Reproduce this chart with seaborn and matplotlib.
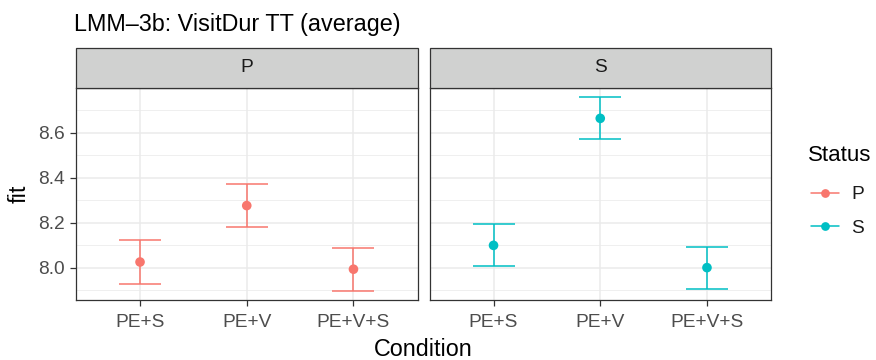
import numpy as np
import pandas as pd
import matplotlib
matplotlib.use("Agg")
import matplotlib.pyplot as plt
import seaborn as sns
from matplotlib.patches import Rectangle
from matplotlib.lines import Line2D

# ---- data ----
conditions = ["PE+S", "PE+V", "PE+V+S"]
statuses = ["P", "S"]
fit_P = [8.025, 8.276, 7.993]
lower_P = [7.929, 8.182, 7.898]
upper_P = [8.123, 8.372, 8.086]
fit_S = [8.099, 8.664, 8.000]
lower_S = [8.006, 8.570, 7.907]
upper_S = [8.193, 8.759, 8.090]
y_ticks = [8.0, 8.2, 8.4, 8.6]
y_minor = [7.9, 8.1, 8.3, 8.5, 8.7]
title_text = "LMM\u20133b: VisitDur TT (average)"
palette = {"P": "#F8766D", "S": "#00BFC4"}

df = pd.DataFrame({
    "Condition": conditions * 2,
    "Status": ["P"] * 3 + ["S"] * 3,
    "fit": fit_P + fit_S,
    "lower": lower_P + lower_S,
    "upper": upper_P + upper_S,
})
df["Condition"] = pd.Categorical(df["Condition"], categories=conditions, ordered=True)
df["xpos"] = df["Condition"].cat.codes

sns.set_theme(style="white")
plt.rcParams["font.family"] = ["Liberation Sans", "DejaVu Sans"]

W, H = 876, 360
g = sns.FacetGrid(df, col="Status", hue="Status", palette=palette,
                  sharey=True, height=3.6, aspect=1.2, col_order=statuses)


def draw(data, color, **kw):
    ax = plt.gca()
    ax.errorbar(data["xpos"], data["fit"],
                yerr=[data["fit"] - data["lower"], data["upper"] - data["fit"]],
                fmt="none", ecolor=color, elinewidth=1.1, capsize=15.4,
                capthick=1.1, zorder=3)
    sns.scatterplot(data=data, x="xpos", y="fit", color=color, s=48,
                    edgecolor="none", linewidth=0, ax=ax, zorder=4, legend=False)


g.map_dataframe(draw)
fig = g.figure
fig.set_size_inches(W / 100, H / 100)
fig.set_dpi(100)
g.set_titles("")
g.set_axis_labels("", "")

lefts = [76, 429.5]
pw = 341.5
top, bottom = 88, 300
strip_h = 40
tick_size = 13.8
big_size = 16.8

for i, (ax, st) in enumerate(zip(g.axes.flat, statuses)):
    ax.set_position([lefts[i] / W, 1 - bottom / H, pw / W, (bottom - top) / H])
    ax.set_xlim(-0.6, 2.6)
    ax.set_ylim(7.856, 8.799)
    ax.set_xticks(range(len(conditions)))
    ax.set_xticklabels(conditions)
    ax.set_yticks(y_ticks)
    ax.set_yticks(y_minor, minor=True)
    ax.set_yticklabels([f"{v:.1f}" for v in y_ticks])
    ax.grid(True, which="major", color="#EBEBEB", linewidth=1.1, zorder=0)
    ax.grid(True, which="minor", axis="y", color="#EBEBEB", linewidth=0.55, zorder=0)
    ax.set_axisbelow(True)
    for sp in ax.spines.values():
        sp.set_visible(True)
        sp.set_color("#333333")
        sp.set_linewidth(0.9)
    ax.tick_params(axis="both", which="major", length=4.0, width=0.9,
                   color="#333333", labelsize=tick_size, labelcolor="#4D4D4D",
                   left=True, bottom=True)
    ax.tick_params(axis="x", which="major", pad=6.0)
    ax.tick_params(axis="y", which="major", pad=4.0)
    ax.tick_params(axis="both", which="minor", length=0, left=False)
    if i > 0:
        ax.tick_params(axis="y", which="both", left=False, labelleft=False)
    ax.set_xlabel("")
    ax.set_ylabel("")
    # facet strip
    hfrac = strip_h / (bottom - top)
    rect = Rectangle((0, 1), 1, hfrac, transform=ax.transAxes, facecolor="#D0D1D0",
                     edgecolor="#333333", linewidth=0.9, clip_on=False, zorder=5)
    ax.add_patch(rect)
    ax.text(0.5, 1 + hfrac / 2, st, transform=ax.transAxes, ha="center", va="center",
            fontsize=tick_size, color="#1A1A1A", zorder=6)

fig.text(74 / W, 1 - 31 / H, title_text, fontsize=big_size, color="black",
         ha="left", va="baseline")
fig.text(423.5 / W, 1 - 355.5 / H, "Condition", fontsize=big_size, color="black",
         ha="center", va="baseline")
fig.text(19 / W, 1 - 194 / H, "fit", fontsize=big_size, color="black",
         ha="center", va="center", rotation=90)

# legend
fig.text(807.5 / W, 1 - 161 / H, "Status", fontsize=16, color="black",
         ha="left", va="baseline")
handles = [Line2D([0], [0], color=palette[s], marker="o", markersize=6.3,
                  linewidth=1.1, markeredgewidth=0) for s in statuses]
leg = fig.legend(handles, statuses, loc="center left",
                 bbox_to_anchor=(805 / W, 1 - 211.5 / H), frameon=False,
                 fontsize=tick_size, handlelength=1.45, borderaxespad=0,
                 handletextpad=0.65, labelspacing=0.85, borderpad=0.3)
for t in leg.get_texts():
    t.set_color("#1A1A1A")

fig.savefig("out.png", dpi=100)
